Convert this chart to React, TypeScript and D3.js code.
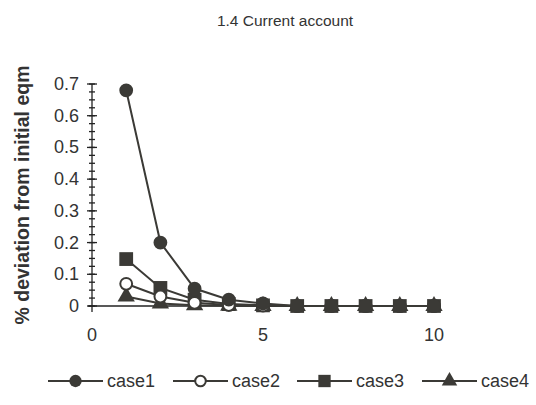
import React, { useEffect, useRef } from 'react';
import * as d3 from 'd3';

const periods = [1, 2, 3, 4, 5, 6, 7, 8, 9, 10];
const case1 = [0.68, 0.2, 0.055, 0.02, 0.008, 0, 0, 0, 0, 0];
const case2 = [0.07, 0.03, 0.01, 0.003, 0.001, 0, 0, 0, 0, 0];
const case3 = [0.148, 0.057, 0.02, 0.006, 0.002, 0, 0, 0, 0, 0];
const case4 = [0.03, 0.008, 0.002, 0.001, 0, 0, 0, 0, 0, 0];
const seriesNames = ['case1', 'case2', 'case3', 'case4'];
const yTicks = [0, 0.1, 0.2, 0.3, 0.4, 0.5, 0.6, 0.7];
const xTicks = [0, 5, 10];

const INK = '#3b3a36';
const FONT = '"Liberation Sans", Arial, sans-serif';

const App = () => {
  const ref = useRef<SVGSVGElement>(null);

  useEffect(() => {
    const svg = d3.select(ref.current);
    svg.selectAll('*').remove();

    const x = d3.scaleLinear().domain([0, 10]).range([92, 434]);
    const y = d3.scaleLinear().domain([0, 0.7]).range([306, 84]);

    // title
    svg.append('text')
      .attr('x', 285).attr('y', 26)
      .attr('text-anchor', 'middle')
      .style('font-family', FONT).style('font-size', '15.5px')
      .attr('fill', '#333')
      .text('1.4 Current account');

    // y axis title
    svg.append('text')
      .attr('transform', 'translate(29,195) rotate(-90)')
      .attr('text-anchor', 'middle')
      .style('font-family', FONT).style('font-size', '19.5px').style('font-weight', 'bold')
      .attr('fill', '#333')
      .text('% deviation from initial eqm');

    const axis = svg.append('g').attr('stroke', '#222').attr('stroke-width', 1.3);

    // y axis line + ticks
    axis.append('line')
      .attr('x1', x(0)).attr('x2', x(0))
      .attr('y1', y(0.7)).attr('y2', y(0) + 6);
    const minor = d3.range(0, 0.7001, 0.025);
    axis.selectAll('.ymin').data(minor).enter().append('line')
      .attr('x1', x(0) - 3).attr('x2', x(0) + 3)
      .attr('y1', d => y(d)).attr('y2', d => y(d));
    axis.selectAll('.ymaj').data(yTicks).enter().append('line')
      .attr('x1', x(0) - 5).attr('x2', x(0) + 5)
      .attr('y1', d => y(d)).attr('y2', d => y(d));

    // x axis line
    axis.append('line')
      .attr('x1', x(0) - 4).attr('x2', x(10))
      .attr('y1', y(0)).attr('y2', y(0));

    svg.selectAll('.ylab').data(yTicks).enter().append('text')
      .attr('x', 79).attr('y', d => y(d) + 6)
      .attr('text-anchor', 'end')
      .style('font-family', FONT).style('font-size', '18px')
      .attr('fill', '#333')
      .text(d => (d === 0 ? '0' : d.toFixed(1)));

    svg.selectAll('.xlab').data(xTicks).enter().append('text')
      .attr('x', d => x(d)).attr('y', 341)
      .attr('text-anchor', 'middle')
      .style('font-family', FONT).style('font-size', '18px')
      .attr('fill', '#333')
      .text(d => String(d));

    const allSeries = [case1, case2, case3, case4];
    const symbols = [d3.symbolCircle, d3.symbolCircle, d3.symbolSquare, d3.symbolTriangle];
    const sizes = [150, 110, 190, 130];
    const fills = [INK, '#fff', INK, INK];

    const line = d3.line<number>()
      .x((_, i) => x(periods[i]))
      .y(d => y(d));

    // draw in reverse so case1 sits on top
    [3, 2, 1, 0].forEach(k => {
      const g = svg.append('g');
      g.append('path')
        .attr('d', line(allSeries[k]))
        .attr('fill', 'none')
        .attr('stroke', INK)
        .attr('stroke-width', 2);
      g.selectAll('path.m').data(allSeries[k]).enter().append('path')
        .attr('class', 'm')
        .attr('d', d3.symbol().type(symbols[k]).size(sizes[k])())
        .attr('transform', (d, i) => `translate(${x(periods[i])},${y(d)})`)
        .attr('fill', fills[k])
        .attr('stroke', INK)
        .attr('stroke-width', k === 1 ? 2 : 0);
    });

    // legend
    const legendX = [48, 173, 297, 422];
    seriesNames.forEach((name, k) => {
      const lg = svg.append('g').attr('transform', `translate(${legendX[k]},381)`);
      lg.append('line')
        .attr('x1', 0).attr('x2', 55).attr('y1', 0).attr('y2', 0)
        .attr('stroke', INK).attr('stroke-width', 2);
      lg.append('path')
        .attr('d', d3.symbol().type(symbols[k]).size(sizes[k] * 0.8)())
        .attr('transform', 'translate(27.5,0)')
        .attr('fill', fills[k])
        .attr('stroke', INK)
        .attr('stroke-width', k === 1 ? 2 : 0);
      lg.append('text')
        .attr('x', 59).attr('y', 6)
        .style('font-family', FONT).style('font-size', '18px')
        .attr('fill', '#333')
        .text(name);
    });
  }, []);

  return (
    <svg ref={ref} width={536} height={405}
      style={{ position: 'absolute', left: 0, top: 0, background: '#fff' }} />
  );
};

export default App;
